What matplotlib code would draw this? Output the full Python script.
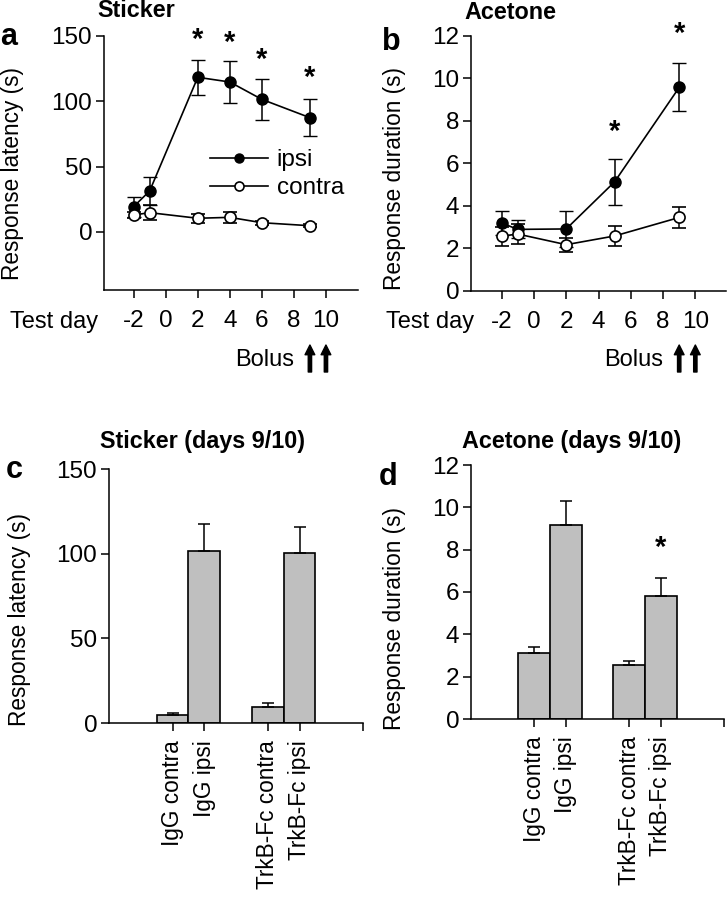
import matplotlib
matplotlib.use("Agg")
import matplotlib.pyplot as plt
from matplotlib.lines import Line2D
import numpy as np

plt.rcParams['font.family'] = ['Liberation Sans', 'DejaVu Sans']
plt.rcParams['font.size'] = 16.3
plt.rcParams['axes.linewidth'] = 1.1
plt.rcParams['axes.unicode_minus'] = False

W, H = 727, 900

# panel a - sticker latency
days_a = [-2, -1, 2, 4, 6, 9]
ipsi_a = [19.4, 31.4, 118.4, 114.8, 101.5, 87.5]
ipsi_a_err = [7.6, 11.0, 13.4, 16.2, 15.7, 14.2]
contra_a = [13.0, 14.8, 10.5, 11.2, 7.1, 4.8]
contra_a_err = [2.5, 5.5, 3.5, 4.0, 1.5, 1.0]
stars_a_x = [2, 4, 6, 9]
stars_a_y = [147, 144.4, 131.6, 117.6]

# panel b - acetone duration
days_b = [-2, -1, 2, 5, 9]
ipsi_b = [3.2, 2.9, 2.92, 5.14, 9.58]
ipsi_b_err = [0.57, 0.42, 0.83, 1.08, 1.13]
contra_b = [2.58, 2.68, 2.18, 2.59, 3.46]
contra_b_err = [0.45, 0.45, 0.33, 0.47, 0.5]
stars_b_x = [5, 9]
stars_b_y = [7.5, 12.1]

day_ticks = [-2, 0, 2, 4, 6, 8, 10]
bolus_days = [9, 10]

# panels c, d - days 9/10
groups = ['IgG contra', 'IgG ipsi', 'TrkB-Fc contra', 'TrkB-Fc ipsi']
bar_pos = [1, 2, 4, 5]
sticker_bars = [4.7, 101.8, 9.3, 100.3]
sticker_err = [1.4, 15.8, 2.7, 15.6]
acetone_bars = [3.12, 9.17, 2.54, 5.8]
acetone_err = [0.28, 1.15, 0.19, 0.87]
star_d_x = [5]
star_d_y = [8.1]


def fx(x):
    return x / W


def fy(y):
    return 1 - y / H


def axes_px(l, t, r, b):
    return fig.add_axes([fx(l), fy(b), (r - l) / W, (b - t) / H])


fig = plt.figure(figsize=(7.27, 9.0), dpi=100)

ax_a = axes_px(104, 36, 358, 290)
ax_b = axes_px(471, 36, 726, 291)
ax_c = axes_px(109, 469, 363, 723)
ax_d = axes_px(471, 465, 724, 719)

for ax in (ax_a, ax_b, ax_c, ax_d):
    ax.spines['top'].set_visible(False)
    ax.spines['right'].set_visible(False)
    ax.tick_params(direction='out', length=5.5, width=1.1, labelsize=17.5)
    ax.tick_params(axis='x', pad=9)
    ax.tick_params(axis='y', pad=3)

# a
ax_a.errorbar(days_a, ipsi_a, yerr=ipsi_a_err, fmt='-o', color='k', mfc='k', mec='k',
              ms=8, lw=1.2, elinewidth=1.1, capsize=5, zorder=3)
ax_a.errorbar(days_a, contra_a, yerr=contra_a_err, fmt='-o', color='k', mfc='w', mec='k',
              ms=8, mew=1.2, lw=1.2, elinewidth=1.1, capsize=5, zorder=4)
for x, y in zip(stars_a_x, stars_a_y):
    ax_a.text(x, y, '*', ha='center', va='center', fontsize=21, fontweight='bold')
ax_a.set_xlim(-3.85, 12)
ax_a.set_ylim(-44.4, 150)
ax_a.set_yticks([0, 50, 100, 150])
ax_a.set_xticks(day_ticks)
handles = [Line2D([], [], color='k', lw=1.2, marker='o', ms=6.5, mfc='k', mec='k'),
           Line2D([], [], color='k', lw=1.2, marker='o', ms=6.5, mfc='w', mec='k', mew=1.2)]
ax_a.legend(handles, ['ipsi', 'contra'], loc='upper left', bbox_to_anchor=(0.417, 0.555),
            frameon=False, borderpad=0, borderaxespad=0, handlelength=2.4,
            handletextpad=0.35, labelspacing=0.25, fontsize=17.5)

# b
ax_b.errorbar(days_b, ipsi_b, yerr=ipsi_b_err, fmt='-o', color='k', mfc='k', mec='k',
              ms=8, lw=1.2, elinewidth=1.1, capsize=5, zorder=3)
ax_b.errorbar(days_b, contra_b, yerr=contra_b_err, fmt='-o', color='k', mfc='w', mec='k',
              ms=8, mew=1.2, lw=1.2, elinewidth=1.1, capsize=5, zorder=4)
for x, y in zip(stars_b_x, stars_b_y):
    ax_b.text(x, y, '*', ha='center', va='center', fontsize=21, fontweight='bold')
ax_b.set_xlim(-3.9, 11.9)
ax_b.set_ylim(0, 12)
ax_b.set_yticks(range(0, 13, 2))
ax_b.set_xticks(day_ticks)

for ax in (ax_a, ax_b):
    for d in bolus_days:
        ax.annotate('', xy=(d, fy(345)), xytext=(d, fy(372)),
                    xycoords=('data', 'figure fraction'),
                    textcoords=('data', 'figure fraction'),
                    arrowprops=dict(width=2.4, headwidth=7, headlength=7,
                                    color='k', shrink=0))

# c, d
for ax, vals, errs in ((ax_c, sticker_bars, sticker_err), (ax_d, acetone_bars, acetone_err)):
    ax.bar(bar_pos, vals, width=1, color='#bfbfbf', edgecolor='k', linewidth=1.2,
           yerr=[np.zeros(len(errs)), errs], capsize=4,
           error_kw=dict(elinewidth=1.1, capthick=1.1, ecolor='k'))
    ax.set_xlim(-1, 7)
    ax.set_xticks(bar_pos + [7])
    ax.set_xticklabels(groups + [''], rotation=90, fontsize=16.3)
    ax.tick_params(axis='x', pad=7)

ax_c.set_ylim(0, 150)
ax_c.set_yticks([0, 50, 100, 150])
ax_d.set_ylim(0, 12)
ax_d.set_yticks(range(0, 13, 2))
for x, y in zip(star_d_x, star_d_y):
    ax_d.text(x, y, '*', ha='center', va='center', fontsize=21, fontweight='bold')

# titles
fig.text(fx(97), fy(17), 'Sticker', fontweight='bold', fontsize=16.8, va='baseline')
fig.text(fx(464), fy(19), 'Acetone', fontweight='bold', fontsize=16.8, va='baseline')
fig.text(fx(100), fy(448), 'Sticker (days 9/10)', fontweight='bold', fontsize=16.8, va='baseline')
fig.text(fx(462), fy(448), 'Acetone (days 9/10)', fontweight='bold', fontsize=16.8, va='baseline')

# panel letters
fig.text(fx(0), fy(45), 'a', fontweight='bold', fontsize=22, va='baseline')
fig.text(fx(382), fy(50), 'b', fontweight='bold', fontsize=22, va='baseline')
fig.text(fx(6), fy(478), 'c', fontweight='bold', fontsize=22, va='baseline')
fig.text(fx(379), fy(485), 'd', fontweight='bold', fontsize=22, va='baseline')

# y labels
fig.text(fx(13), fy(173), 'Response latency (s)', rotation=90, ha='center', va='center')
fig.text(fx(394), fy(178), 'Response duration (s)', rotation=90, ha='center', va='center')
fig.text(fx(20), fy(619), 'Response latency (s)', rotation=90, ha='center', va='center')
fig.text(fx(394), fy(619), 'Response duration (s)', rotation=90, ha='center', va='center')

# x axis side texts
fig.text(fx(10), fy(322), 'Test day', va='center', fontsize=17)
fig.text(fx(386), fy(322), 'Test day', va='center', fontsize=17)
fig.text(fx(235), fy(360), 'Bolus', va='center', fontsize=17)
fig.text(fx(604), fy(360), 'Bolus', va='center', fontsize=17)

fig.savefig('out.png', dpi=100)
